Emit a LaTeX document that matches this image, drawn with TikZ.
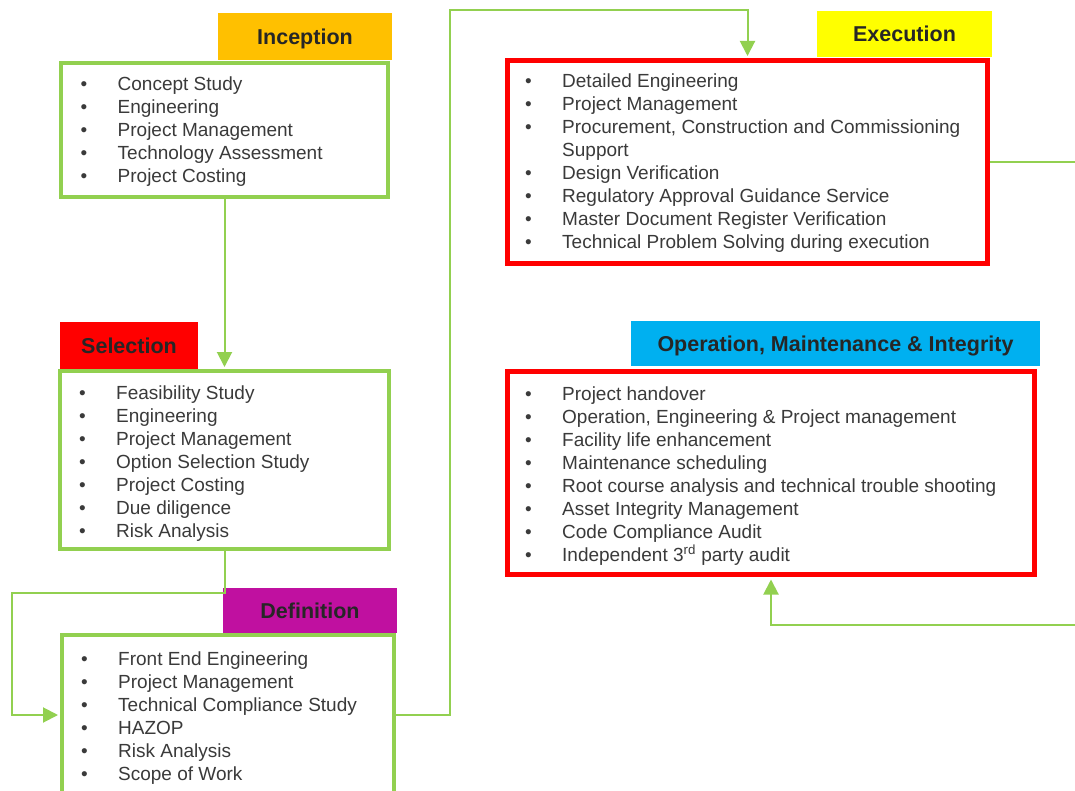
\documentclass[tikz,border=0pt]{standalone}
\usepackage{fontspec}
\setmainfont{Liberation Sans}
\usetikzlibrary{arrows.meta}
\definecolor{lgreen}{HTML}{92D050}
\definecolor{hdorange}{HTML}{FFC000}
\definecolor{hdred}{HTML}{FF0000}
\definecolor{hdpurple}{RGB}{192,16,160}
\definecolor{hdyellow}{HTML}{FFFF00}
\definecolor{hdcyan}{HTML}{00B0F0}
\definecolor{txt}{HTML}{3A3A3A}
\definecolor{hdtxt}{HTML}{262626}
\newcommand\bul{\makebox[37pt][l]{\textbullet}}
\newcommand\nobul{\hspace*{37pt}}
\tikzset{
 hdr/.style={fill=#1, draw=none, inner sep=0pt, text height=15.4pt, text depth=0pt, font=\fontsize{21.5}{24}\bfseries\selectfont, text=hdtxt},
 gbox/.style={draw=lgreen, line width=4pt, inner sep=0pt},
 rbox/.style={draw=hdred, line width=5pt, inner sep=0pt},
 itm/.style={anchor=base west, inner sep=0pt, font=\fontsize{19}{23}\selectfont, text=txt},
 conn/.style={draw=lgreen, line width=2pt},
 arr/.style={conn, -{Triangle[width=15pt,length=15pt]}, shorten >=2pt},
}
\begin{document}
\begin{tikzpicture}[x=1pt,y=-1pt]
\useasboundingbox (0,0) rectangle (1075,791);
\clip (0,0) rectangle (1075,791);
\fill[white] (0,0) rectangle (1075,791);

% Inception
\node[gbox, minimum width=327pt, minimum height=134pt] (inc) at (224.5,130) {};
\node[hdr=hdorange, minimum width=174pt, minimum height=47pt] (inch) at (305,36.5) {Inception};
\foreach \t [count=\i from 0] in {Concept Study, Engineering, Project Management, Technology Assessment, Project Costing}
  \node[itm] (inc-\i) at (80.5,{91+23*\i}) {\bul\t};

% Selection
\node[gbox, minimum width=329pt, minimum height=178pt] (sel) at (224.5,460) {};
\node[hdr=hdred, minimum width=138pt, minimum height=47pt] (selh) at (129,345.5) {Selection};
\foreach \t [count=\i from 0] in {Feasibility Study, Engineering, Project Management, Option Selection Study, Project Costing, Due diligence, Risk Analysis}
  \node[itm] (sel-\i) at (79,{399+23*\i}) {\bul\t};

% Definition
\node[gbox, minimum width=332pt, minimum height=160pt] (def) at (228,715) {};
\node[hdr=hdpurple, minimum width=174pt, minimum height=45pt] (defh) at (310,610.5) {Definition};
\foreach \t [count=\i from 0] in {Front End Engineering, Project Management, Technical Compliance Study, HAZOP, Risk Analysis, Scope of Work}
  \node[itm] (def-\i) at (81,{665+23*\i}) {\bul\t};

% Execution
\node[rbox, minimum width=480pt, minimum height=203pt] (exe) at (747.5,162) {};
\node[hdr=hdyellow, minimum width=175pt, minimum height=46pt] (exeh) at (904.5,34) {Execution};
\foreach \t [count=\i from 0] in {\bul Detailed Engineering, \bul Project Management, {\bul Procurement, Construction and Commissioning}, \nobul Support, \bul Design Verification, \bul Regulatory Approval Guidance Service, \bul Master Document Register Verification, \bul Technical Problem Solving during execution}
  \node[itm] (exe-\i) at (525,{88+22.9*\i}) {\t};

% Operation
\node[rbox, minimum width=527pt, minimum height=203pt] (ope) at (771,473) {};
\node[hdr=hdcyan, minimum width=409pt, minimum height=45pt] (opeh) at (835.5,343.5) {Operation, Maintenance \& Integrity};
\foreach \t [count=\i from 0] in {Project handover, {Operation, Engineering \& Project management}, Facility life enhancement, Maintenance scheduling, Root course analysis and technical trouble shooting, Asset Integrity Management, Code Compliance Audit, Independent 3\textsuperscript{rd} party audit}
  \node[itm] (ope-\i) at (525,{400+23*\i}) {\bul\t};

% Connectors
\draw[arr] (inc.south) -- (sel.north);
\coordinate (k1) at (12,593);
\draw[arr] (sel.south) |- (k1) |- (def.west);
\coordinate (k2) at (450,10);
\draw[arr] (def.east) -| (k2) -| (exe.north);
\coordinate (r1) at (1085,0);
\draw[conn] (exe.east) -- (exe.east -| r1);
\coordinate (r2) at (1085,625);
\draw[arr, shorten >=2.5pt] (r2) -| (ope.south);
\end{tikzpicture}
\end{document}
